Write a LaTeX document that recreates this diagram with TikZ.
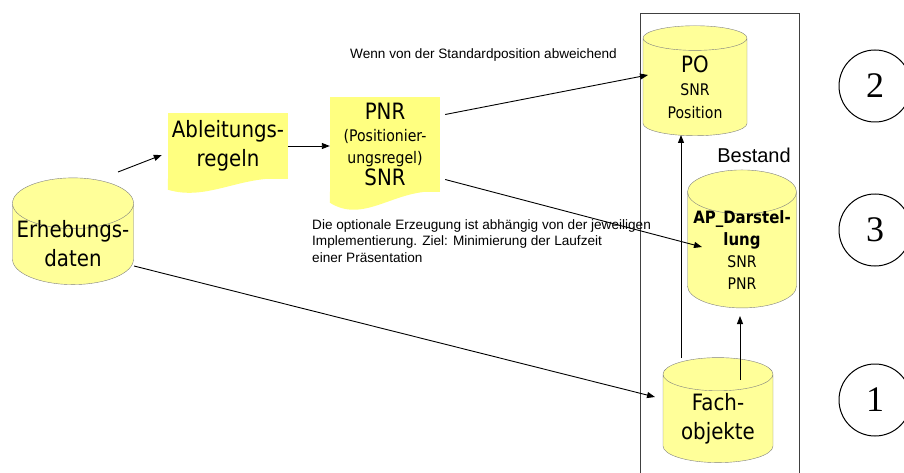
\documentclass[tikz,border=0pt]{standalone}
\usepackage{fontspec}
\setmainfont{DejaVu Sans}[FakeStretch=0.88]
\newfontfamily\arialfont{Liberation Sans}
\newfontfamily\timesfont{Liberation Serif}
\usetikzlibrary{shapes.geometric,arrows.meta}
\definecolor{dbfill}{RGB}{255,255,153}
\definecolor{docfill}{RGB}{255,255,128}
\definecolor{dbline}{RGB}{128,128,128}
\begin{document}
\begin{tikzpicture}[x=1pt,y=-1pt,
  db/.style={cylinder,shape border rotate=90,aspect=0.45,draw=dbline,fill=dbfill,inner sep=0pt,align=center},
  doc/.style={rectangle,fill=docfill,inner sep=0pt,align=center},
  big/.style={font=\fontsize{22.5}{29}\selectfont},
  note/.style={font=\arialfont\fontsize{13.6}{16.5}\selectfont,align=left,inner sep=0pt},
  num/.style={circle,draw,line width=1pt,minimum size=72pt,font=\timesfont\fontsize{36}{36}\selectfont},
  arr/.style={-{Triangle[length=8pt,width=6pt]},line width=0.9pt}]
\useasboundingbox (0,0) rectangle (904,473);

\draw[black!75,line width=1pt] (640,14) rectangle (799,490);

\node[db,big,minimum width=121pt,minimum height=84pt,inner ysep=-8pt] (erh) at (73,244) {Erhebungs-\\daten};
\node[doc,big,minimum width=120pt,minimum height=66pt] (abl) at (228,146) {Ableitungs-\\regeln};
\fill[docfill] ([yshift=0.5]abl.south west) -- ++(0,11) .. controls +(40,12) and +(-48,-4) .. ([yshift=0.5]abl.south east) -- cycle;
\node[doc,minimum width=110pt,minimum height=95pt,font=\fontsize{16}{22}\selectfont] (pnr) at (385,144.5)
  {{\fontsize{22.5}{24}\selectfont PNR}\\(Positionier-\\ungsregel)\\{\fontsize{22.5}{24}\selectfont SNR}};
\fill[docfill] ([yshift=0.5]pnr.south west) -- ++(0,11) .. controls +(35,22) and +(-45,-4) .. ([yshift=0.5]pnr.south east) -- cycle;

\node[db,minimum width=104pt,minimum height=110pt,font=\fontsize{16}{23}\selectfont] (po) at (695,87)
  {{\fontsize{22.5}{24}\selectfont PO}\\SNR\\Position};
\node[font=\arialfont\fontsize{20}{20}\selectfont] (best) at (754,155) {Bestand};
\node[db,minimum width=109pt,minimum height=138pt,inner ysep=-7pt,font=\fontsize{16}{22}\selectfont] (ap) at (742,250)
  {\textbf{\fontsize{17}{23}\selectfont AP\_Darstel-}\\\textbf{\fontsize{17}{23}\selectfont lung}\\SNR\\PNR};
\node[db,big,minimum width=110pt,minimum height=105pt] (fach) at (718,418.5) {Fach-\\objekte};

\node[note,anchor=west] (wenn) at (350,55) {Wenn von der Standardposition abweichend};
\node[note,anchor=north west] (opt) at (312,219) {Die optionale Erzeugung ist abhängig von der jeweiligen\\Implementierung. Ziel: Minimierung der Laufzeit\\einer Präsentation};

\node[num] (n2) at (875,86) {2};
\node[num] (n3) at (875,230) {3};
\node[num] (n1) at (875,400) {1};

\draw[arr] ([shift={(45,-72)}]erh.center) -- ([shift={(-6,9)}]abl.west);
\draw[arr] (abl.east) -- (abl.east -| pnr.west);
\draw[arr] ([shift={(5,-30)}]pnr.east) -- ([shift={(-47,-12)}]po.center);
\draw[arr] ([shift={(5,35)}]pnr.east) -- ([shift={(-40,-3)}]ap.center);
\draw[arr] ([shift={(61,22)}]erh.center) -- ([shift={(-63,-21.5)}]fach.center);
\draw[arr] ([shift={(-37,-60.5)}]fach.center) -- ([shift={(-14,48)}]po.center);
\draw[arr] ([shift={(22,-38.5)}]fach.center) -- ([shift={(-2,66)}]ap.center);
\end{tikzpicture}
\end{document}
